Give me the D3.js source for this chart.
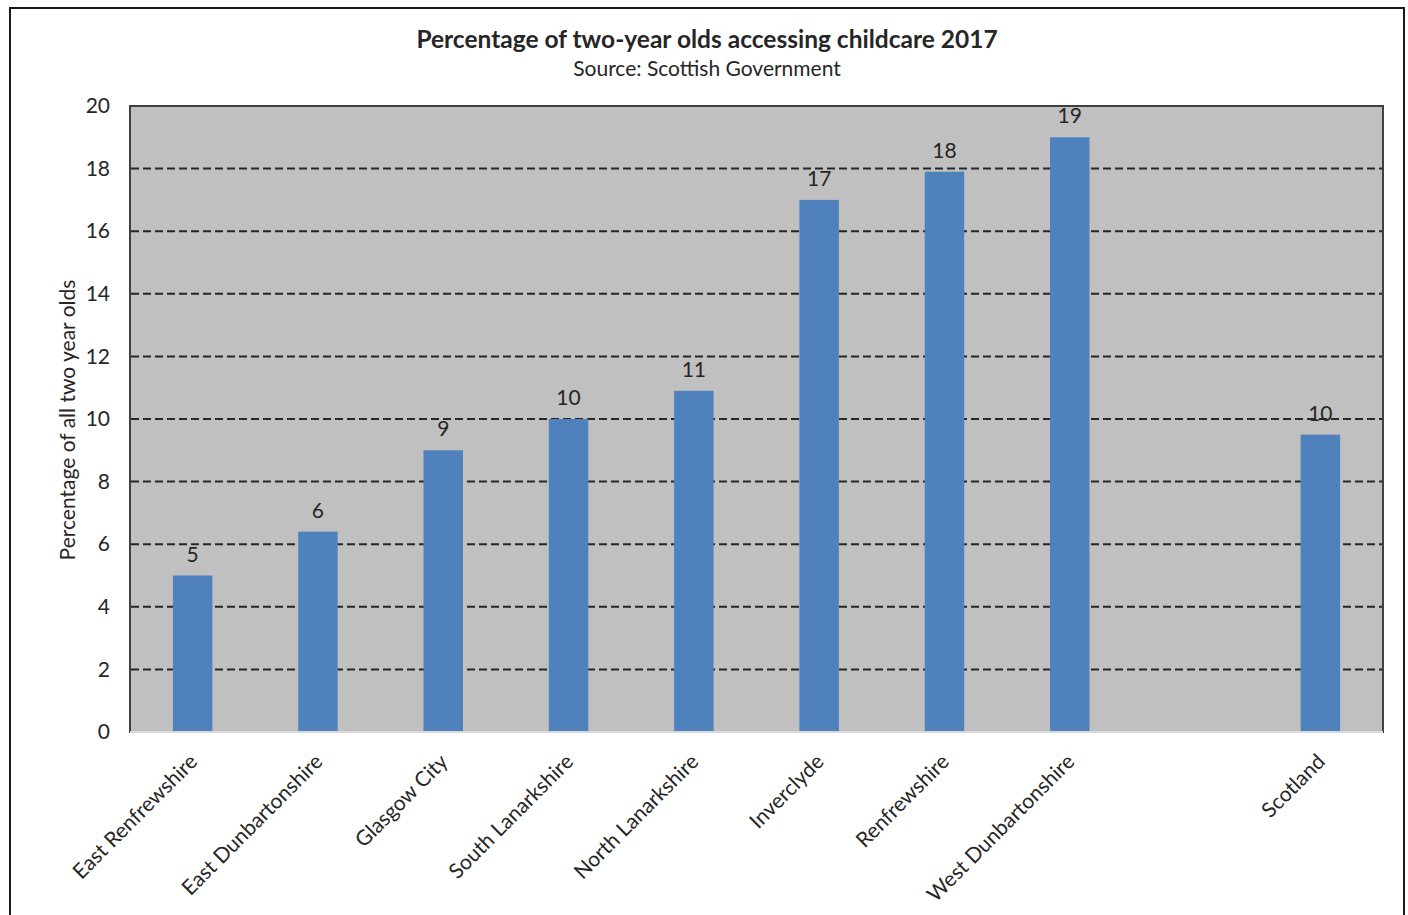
<!DOCTYPE html>
<html>
<head>
<meta charset="utf-8">
<script src="https://cdn.jsdelivr.net/npm/d3@7"></script>
<style>
  body { margin: 0; background: #fff; }
  text { font-family: Lato, "Open Sans", sans-serif; fill: #262626; }
</style>
</head>
<body>
<svg width="1408" height="915"></svg>
<script>
// data ("" is the empty slot before Scotland)
var categories = ["East Renfrewshire", "East Dunbartonshire", "Glasgow City", "South Lanarkshire",
                  "North Lanarkshire", "Inverclyde", "Renfrewshire", "West Dunbartonshire", "", "Scotland"];
var values = [5.0, 6.4, 9.0, 10.0, 10.9, 17.0, 17.9, 19.0, null, 9.5];
var yTicks = [0, 2, 4, 6, 8, 10, 12, 14, 16, 18, 20];

var svg = d3.select("svg");
var plotLeft = 130, plotRight = 1383, plotTop = 106, plotBottom = 732;
var fs = "21px";

// outer chart border
svg.append("rect")
    .attr("x", 10).attr("y", 8)
    .attr("width", 1394).attr("height", 930)
    .attr("fill", "#fff")
    .attr("stroke", "#1a1a1a")
    .attr("stroke-width", 2);

var x = d3.scaleBand()
    .domain(d3.range(categories.length))
    .range([plotLeft, plotRight]);

var y = d3.scaleLinear()
    .domain([0, 20])
    .range([plotBottom, plotTop]);

// plot area
svg.append("rect")
    .attr("x", plotLeft).attr("y", plotTop)
    .attr("width", plotRight - plotLeft).attr("height", plotBottom - plotTop)
    .attr("fill", "#c0c0c0")
    .attr("stroke", "#404040")
    .attr("stroke-width", 2);

// dashed gridlines
svg.selectAll(".grid")
    .data(yTicks.filter(function(d) { return d > 0 && d < 20; }))
    .enter()
    .append("line")
    .attr("x1", plotLeft + 1).attr("x2", plotRight - 1)
    .attr("y1", function(d) { return y(d); })
    .attr("y2", function(d) { return y(d); })
    .attr("stroke", "#262626")
    .attr("stroke-width", 2)
    .attr("stroke-dasharray", "8,4");

var data = categories.map(function(c, i) { return {name: c, value: values[i], i: i}; })
    .filter(function(d) { return d.value !== null; });

var barW = x.bandwidth() * 0.315;

svg.selectAll(".bar")
    .data(data)
    .enter()
    .append("rect")
    .attr("x", function(d) { return x(d.i) + x.bandwidth() / 2 - barW / 2; })
    .attr("y", function(d) { return y(d.value); })
    .attr("width", barW)
    .attr("height", function(d) { return y(0) - y(d.value); })
    .attr("fill", "#4f81bd");

// bottom axis line
svg.append("line")
    .attr("x1", plotLeft).attr("x2", plotRight)
    .attr("y1", plotBottom).attr("y2", plotBottom)
    .attr("stroke", "#d9d9d9")
    .attr("stroke-width", 2);

// value labels
svg.selectAll(".val")
    .data(data)
    .enter()
    .append("text")
    .attr("x", function(d) { return x(d.i) + x.bandwidth() / 2; })
    .attr("y", function(d) { return y(d.value) - 14; })
    .attr("text-anchor", "middle")
    .style("font-size", fs)
    .text(function(d) { return d3.format(".0f")(d.value); });

// y axis labels
var yAxis = d3.axisLeft(y).tickValues(yTicks).tickSize(0).tickPadding(20);
var gy = svg.append("g")
    .attr("transform", "translate(" + plotLeft + ",0)")
    .call(yAxis);
gy.select(".domain").remove();
gy.selectAll("text").style("font-size", fs).attr("fill", "#262626");

// x axis labels
var xAxis = d3.axisBottom(x).tickSize(0).tickFormat(function(i) { return categories[i]; });
var gx = svg.append("g")
    .attr("transform", "translate(0," + plotBottom + ")")
    .call(xAxis);
gx.select(".domain").remove();
gx.selectAll("text")
    .style("font-size", fs)
    .attr("fill", "#262626")
    .attr("text-anchor", "end")
    .attr("dy", null)
    .attr("y", 0)
    .attr("transform", "translate(6,31) rotate(-45)");
gx.attr("font-family", null);
gy.attr("font-family", null);

// axis title
svg.append("text")
    .attr("transform", "translate(75,420) rotate(-90)")
    .attr("text-anchor", "middle")
    .style("font-size", fs)
    .text("Percentage of all two year olds");

// titles
svg.append("text")
    .attr("x", 707).attr("y", 48)
    .attr("text-anchor", "middle")
    .style("font-size", "24.5px")
    .style("font-weight", "bold")
    .text("Percentage of two-year olds accessing childcare 2017");

svg.append("text")
    .attr("x", 707).attr("y", 76)
    .attr("text-anchor", "middle")
    .style("font-size", fs)
    .text("Source: Scottish Government");
</script>
</body>
</html>
